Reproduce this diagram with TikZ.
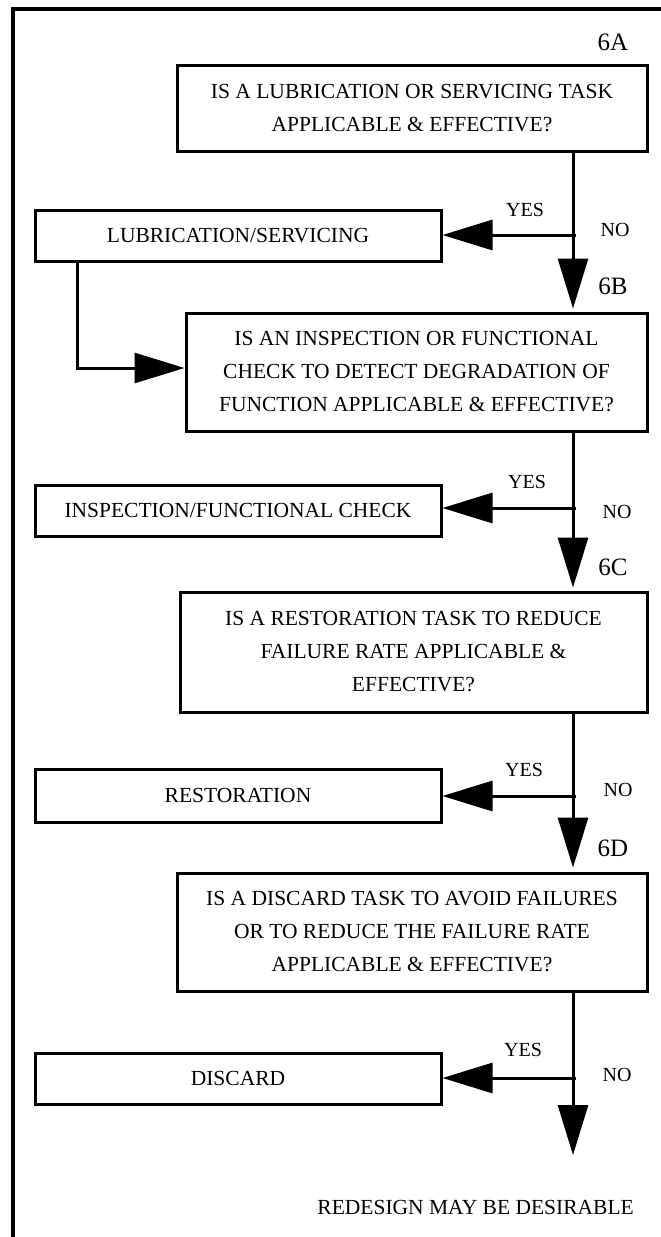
\documentclass[tikz,border=0pt]{standalone}
\usepackage{fontspec}
\setmainfont{Liberation Serif}
\usetikzlibrary{arrows.meta}

\tikzset{
  question/.style={draw, line width=3pt, rectangle, align=center, inner sep=0pt,
    font=\fontsize{21.5}{33}\selectfont},
  action/.style={draw, line width=3pt, rectangle, align=center, inner sep=0pt,
    minimum width=406pt, font=\fontsize{21.5}{25}\selectfont},
  tag/.style={font=\fontsize{25}{28}\selectfont, inner sep=0pt},
  answer/.style={font=\fontsize{20}{24}\selectfont, inner sep=0pt},
  flow/.style={line width=3pt, -{Triangle[length=50pt,width=30pt]}},
}

\begin{document}
\begin{tikzpicture}[x=1pt,y=-1pt]
\useasboundingbox (0,0) rectangle (661,1237);

% outer frame
\coordinate (fbl) at (13,1237);
\coordinate (ftl) at (13,9);
\coordinate (ftr) at (661,9);
\draw[line width=3.5pt] (fbl) -- (ftl) -- (ftr);

% question boxes
\node[question, minimum width=470pt, minimum height=86pt] (qa) at (412,108)
  {IS A LUBRICATION OR SERVICING TASK\\APPLICABLE \& EFFECTIVE?};
\node[question, minimum width=461pt, minimum height=118pt] (qb) at (416.5,372)
  {IS AN INSPECTION OR FUNCTIONAL\\CHECK TO DETECT DEGRADATION OF\\FUNCTION APPLICABLE \& EFFECTIVE?};
\node[question, minimum width=467pt, minimum height=120pt] (qc) at (413.5,652)
  {IS A RESTORATION TASK TO REDUCE\\FAILURE RATE APPLICABLE \&\\EFFECTIVE?};
\node[question, minimum width=470pt, minimum height=118pt] (qd) at (412,932)
  {IS A DISCARD TASK TO AVOID FAILURES\\OR TO REDUCE THE FAILURE RATE\\APPLICABLE \& EFFECTIVE?};

% task boxes
\node[action, minimum height=51pt] (ta) at (238,235.5) {LUBRICATION/SERVICING};
\node[action, minimum height=51pt] (tb) at (238,510.5) {INSPECTION/FUNCTIONAL CHECK};
\node[action, minimum height=53pt] (tc) at (238,795.5) {RESTORATION};
\node[action, minimum height=51pt] (td) at (238,1078.5) {DISCARD};

% step tags
\node[tag] (la) at (613,42) {6A};
\node[tag] (lb) at (613,286) {6B};
\node[tag] (lc) at (613,567) {6C};
\node[tag] (ld) at (613,848) {6D};

% branch points on the main line
\coordinate (ja) at (573,235);
\coordinate (jb) at (573,508);
\coordinate (jc) at (573,796);
\coordinate (jd) at (573,1078);
\coordinate (endpt) at (573,1155);

% answers
\node[answer] (ya) at (525,210) {YES};
\node[answer] (yb) at (527,482) {YES};
\node[answer] (yc) at (524,770) {YES};
\node[answer] (yd) at (523,1050) {YES};
\node[answer] (na) at (615,230) {NO};
\node[answer] (nb) at (617,512) {NO};
\node[answer] (nc) at (618,790) {NO};
\node[answer] (nd) at (617,1075) {NO};

% main "no" path
\draw[flow, shorten >=3pt] (qa.south -| ja) -- (qb.north -| ja);
\draw[flow, shorten >=3pt] (qb.south -| jb) -- (qc.north -| jb);
\draw[flow, shorten >=4pt] (qc.south -| jc) -- (qd.north -| jc);
\draw[flow] (qd.south -| jd) -- (endpt);

% "yes" branches
\draw[flow] ([xshift=3pt]ja) -- (ta.east |- ja);
\draw[flow] ([xshift=3pt]jb) -- (tb.east |- jb);
\draw[flow] ([xshift=3pt]jc) -- (tc.east |- jc);
\draw[flow] ([xshift=3pt]jd) -- (td.east |- jd);

% lubrication feeds into the inspection question
\coordinate (lp) at (77,368);
\draw[flow] (lp |- ta.south) -- (lp) -- (qb.west |- lp);

% final outcome
\node[answer, font=\fontsize{21.5}{25}\selectfont, anchor=east] (out) at (634,1207)
  {REDESIGN MAY BE DESIRABLE};
\end{tikzpicture}
\end{document}
